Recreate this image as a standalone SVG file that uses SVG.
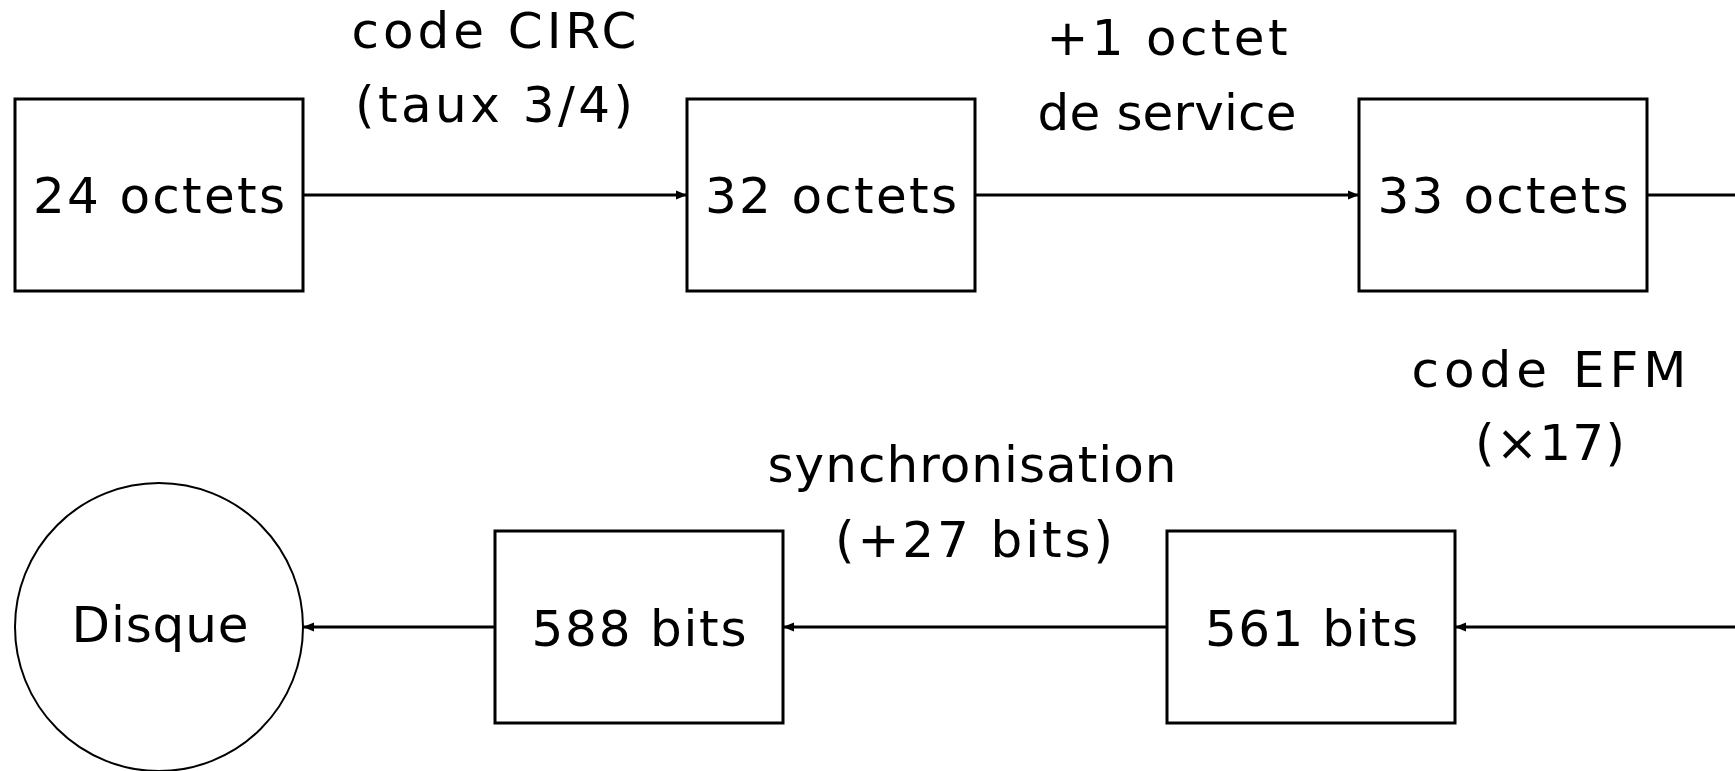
<svg xmlns="http://www.w3.org/2000/svg" width="1735" height="771" viewBox="0 0 1735 771">
<defs>
<style>
.box{fill:#fff;stroke:#000;stroke-width:3}
.circ{fill:#fff;stroke:#000;stroke-width:2}
.edge{fill:none;stroke:#000;stroke-width:2.8}
text{font-family:"DejaVu Sans","Liberation Sans",sans-serif;font-size:50px;fill:#000;text-anchor:middle}
</style>
<marker id="arr" markerWidth="12" markerHeight="10" refX="11" refY="5" orient="auto" markerUnits="userSpaceOnUse">
<path d="M0,0.5 L11,5 L0,9.5 Z" fill="#000"/>
</marker>
</defs>
<rect width="1735" height="771" fill="#fff"/>
<g id="connectors">
<line class="edge" x1="303" y1="195" x2="687" y2="195" marker-end="url(#arr)"/>
<line class="edge" x1="975" y1="195" x2="1359" y2="195" marker-end="url(#arr)"/>
<line class="edge" x1="1647" y1="195" x2="1740" y2="195"/>
<line class="edge" x1="1740" y1="627" x2="1455" y2="627" marker-end="url(#arr)"/>
<line class="edge" x1="1167" y1="627" x2="783" y2="627" marker-end="url(#arr)"/>
<line class="edge" x1="495" y1="627" x2="303" y2="627" marker-end="url(#arr)"/>
<text x="494" y="48" textLength="285" lengthAdjust="spacing">code CIRC</text>
<text x="494" y="122" textLength="278" lengthAdjust="spacing">(taux 3/4)</text>
<text x="1167" y="55" textLength="241" lengthAdjust="spacing">+1 octet</text>
<text x="1167" y="130" textLength="259" lengthAdjust="spacing">de service</text>
<text x="972" y="482" textLength="409" lengthAdjust="spacing">synchronisation</text>
<text x="974" y="557" textLength="278" lengthAdjust="spacing">(+27 bits)</text>
<text x="1549" y="387" textLength="275" lengthAdjust="spacing">code EFM</text>
<text x="1550" y="460" textLength="150" lengthAdjust="spacing">(×17)</text>
</g>
<g id="n24">
<rect class="box" x="15" y="99" width="288" height="192"/>
<text x="159" y="213" textLength="252" lengthAdjust="spacing">24 octets</text>
</g>
<g id="n32">
<rect class="box" x="687" y="99" width="288" height="192"/>
<text x="831" y="213" textLength="252" lengthAdjust="spacing">32 octets</text>
</g>
<g id="n33">
<rect class="box" x="1359" y="99" width="288" height="192"/>
<text x="1503" y="213" textLength="251" lengthAdjust="spacing">33 octets</text>
</g>
<g id="n561">
<rect class="box" x="1167" y="531" width="288" height="192"/>
<text x="1311.5" y="646" textLength="213" lengthAdjust="spacing">561 bits</text>
</g>
<g id="n588">
<rect class="box" x="495" y="531" width="288" height="192"/>
<text x="639" y="646" textLength="215" lengthAdjust="spacing">588 bits</text>
</g>
<g id="disque">
<circle class="circ" cx="159" cy="627" r="144"/>
<text x="160" y="642" textLength="177" lengthAdjust="spacing">Disque</text>
</g>
</svg>
